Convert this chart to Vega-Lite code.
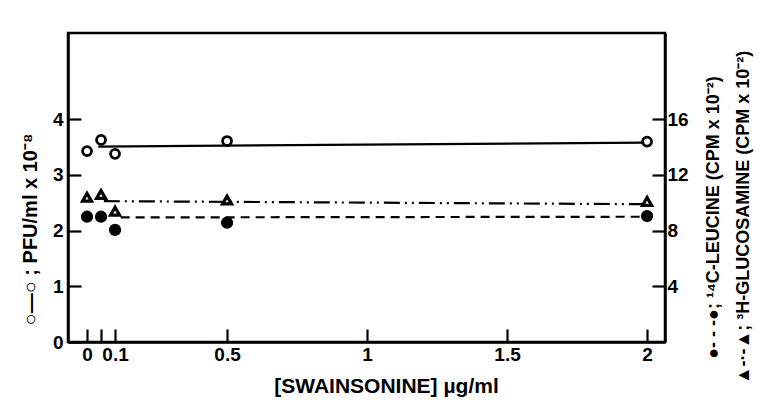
{
  "$schema": "https://vega.github.io/schema/vega-lite/v6.json",
  "width": 597,
  "height": 309,
  "autosize": {"type": "none"},
  "padding": {"left": 68, "top": 33, "right": 93, "bottom": 62},
  "background": "white",
  "config": {
    "view": {"stroke": "black", "strokeWidth": 2.5},
    "font": "Liberation Sans",
    "axis": {
      "domainColor": "black", "domainWidth": 2.5, "tickColor": "black", "tickWidth": 2.2,
      "labelColor": "black", "labelFont": "Liberation Sans", "labelFontWeight": "bold", "labelFontSize": 19,
      "titleColor": "black", "titleFont": "Liberation Sans", "titleFontWeight": "bold", "titleFontSize": 19,
      "grid": false
    }
  },
  "datasets": {
    "points": [
      {"x": 0, "series": "PFU", "value": 3.43},
      {"x": 0.05, "series": "PFU", "value": 3.63},
      {"x": 0.1, "series": "PFU", "value": 3.38},
      {"x": 0.5, "series": "PFU", "value": 3.61},
      {"x": 2, "series": "PFU", "value": 3.6},
      {"x": 0, "series": "Leucine", "value": 9.0},
      {"x": 0.05, "series": "Leucine", "value": 9.0},
      {"x": 0.1, "series": "Leucine", "value": 8.05},
      {"x": 0.5, "series": "Leucine", "value": 8.57},
      {"x": 2, "series": "Leucine", "value": 9.05},
      {"x": 0, "series": "Glucosamine", "value": 10.4},
      {"x": 0.05, "series": "Glucosamine", "value": 10.6},
      {"x": 0.1, "series": "Glucosamine", "value": 9.4},
      {"x": 0.5, "series": "Glucosamine", "value": 10.2},
      {"x": 2, "series": "Glucosamine", "value": 10.1}
    ],
    "fits": [
      {"x": 0.04, "series": "PFU", "value": 3.51},
      {"x": 2, "series": "PFU", "value": 3.58},
      {"x": 0.12, "series": "Leucine", "value": 8.95},
      {"x": 2, "series": "Leucine", "value": 9.0},
      {"x": 0.06, "series": "Glucosamine", "value": 10.12},
      {"x": 2, "series": "Glucosamine", "value": 9.9}
    ]
  },
  "encoding": {
    "x": {
      "field": "x", "type": "quantitative",
      "scale": {"domain": [-0.068, 2.064], "nice": false, "zero": false},
      "axis": {
        "values": [0, 0.05, 0.1, 0.5, 1, 1.5, 2],
        "labelExpr": "datum.value == 0.05 ? '' : format(datum.value, '~g')",
        "tickSize": -13, "labelPadding": 16, "labelFlush": false,
        "title": "[SWAINSONINE]  µg/ml", "titleFontSize": 21,
        "titleX": 318, "titleY": 50, "titleBaseline": "alphabetic"
      }
    }
  },
  "layer": [
    {
      "encoding": {
        "y": {
          "field": "value", "type": "quantitative",
          "scale": {"domain": [0, 5.55], "nice": false, "zero": true},
          "axis": {
            "orient": "left", "values": [0, 1, 2, 3, 4], "tickSize": -13, "labelPadding": 18,
            "labelFlush": false,
            "title": "○—○ ; PFU/ml x 10⁻⁸", "titleAngle": -90, "titleFontSize": 20,
            "titleX": -38, "titleY": 196, "titleAlign": "center", "titleBaseline": "middle"
          }
        }
      },
      "layer": [
        {
          "data": {"name": "fits"},
          "transform": [{"filter": "datum.series == 'PFU'"}],
          "mark": {"type": "line", "color": "black", "strokeWidth": 2.2},
          "encoding": {}
        },
        {
          "data": {"name": "points"},
          "transform": [{"filter": "datum.series == 'PFU'"}],
          "mark": {"type": "point", "shape": "circle", "filled": false, "color": "black", "fill": "white", "fillOpacity": 1, "strokeWidth": 2.8, "size": 80, "opacity": 1},
          "encoding": {}
        }
      ]
    },
    {
      "encoding": {
        "y": {
          "field": "value", "type": "quantitative",
          "scale": {"domain": [0, 22.2], "nice": false, "zero": true},
          "axis": {
            "orient": "right", "values": [4, 8, 12, 16], "tickSize": -13, "labelPadding": 15,
            "labelFlush": false,
            "title": ["●- - -●;  ¹⁴C-LEUCINE  (CPM x 10⁻²)", "▲-·-▲;  ³H-GLUCOSAMINE  (CPM x 10⁻²)"],
            "titleAngle": -90, "titleFontSize": 18, "titleLineHeight": 30,
            "titleX": 48, "titleY": 184, "titleAlign": "center", "titleBaseline": "middle"
          }
        }
      },
      "layer": [
        {
          "data": {"name": "fits"},
          "transform": [{"filter": "datum.series == 'Leucine'"}],
          "mark": {"type": "line", "color": "black", "strokeWidth": 2.2, "strokeDash": [9, 6]},
          "encoding": {}
        },
        {
          "data": {"name": "fits"},
          "transform": [{"filter": "datum.series == 'Glucosamine'"}],
          "mark": {"type": "line", "color": "black", "strokeWidth": 2.2, "strokeDash": [16, 5, 2, 5, 2, 5]},
          "encoding": {}
        },
        {
          "data": {"name": "points"},
          "transform": [{"filter": "datum.series == 'Leucine'"}],
          "mark": {"type": "point", "shape": "circle", "filled": true, "color": "black", "size": 150, "opacity": 1},
          "encoding": {}
        },
        {
          "data": {"name": "points"},
          "transform": [{"filter": "datum.series == 'Glucosamine'"}],
          "mark": {"type": "point", "shape": "triangle-up", "filled": false, "color": "black", "fill": "white", "fillOpacity": 1, "strokeWidth": 3.2, "size": 80, "opacity": 1},
          "encoding": {}
        }
      ]
    }
  ],
  "resolve": {"scale": {"y": "independent"}}
}
